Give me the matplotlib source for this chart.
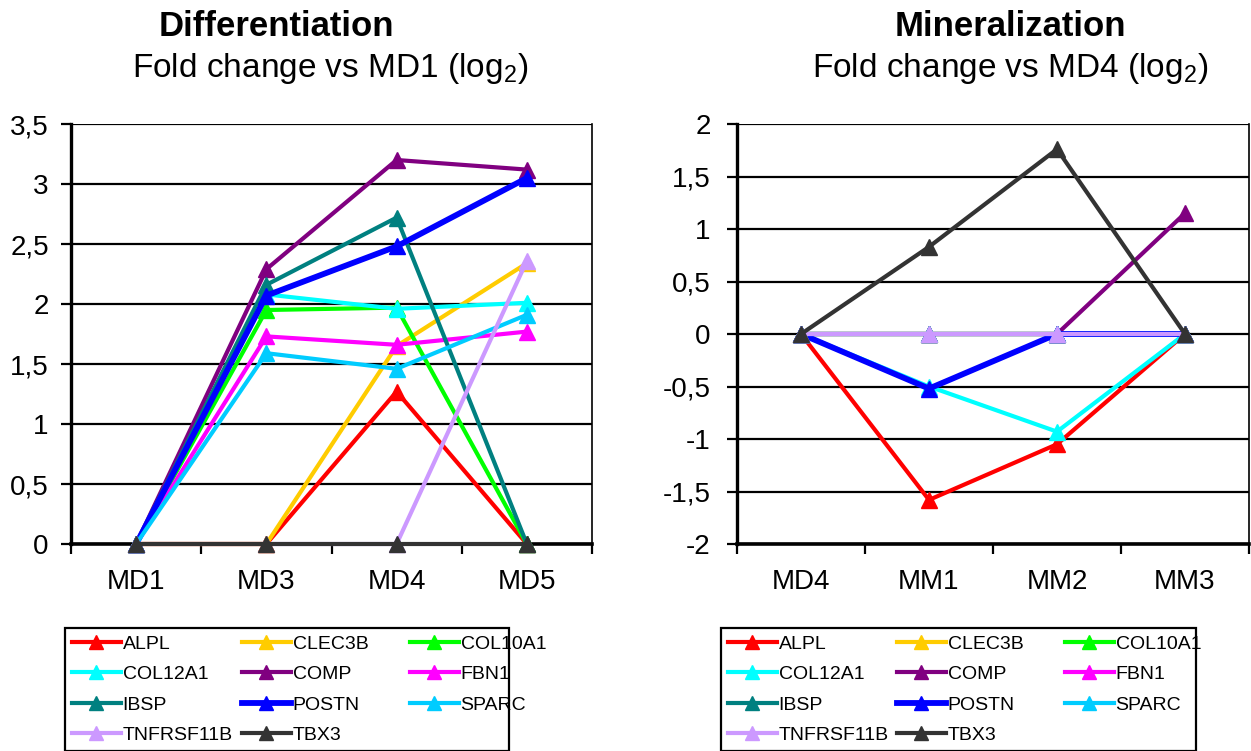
import matplotlib
matplotlib.use("Agg")
import matplotlib.pyplot as plt
from matplotlib.ticker import FixedLocator

plt.rcParams['font.family'] = ['Liberation Sans', 'DejaVu Sans']
plt.rcParams['mathtext.fontset'] = 'custom'
plt.rcParams['mathtext.rm'] = 'Liberation Sans'

genes = ["ALPL", "CLEC3B", "COL10A1", "COL12A1", "COMP", "FBN1",
         "IBSP", "POSTN", "SPARC", "TNFRSF11B", "TBX3"]
colors = ["#FF0000", "#FFCC00", "#00FF00", "#00FFFF", "#800080", "#FF00FF",
          "#008080", "#0000FF", "#00CCFF", "#CC99FF", "#333333"]

diff_categories = ["MD1", "MD3", "MD4", "MD5"]
diff_ALPL = [0, 0, 1.27, 0]
diff_CLEC3B = [0, 0, 1.65, 2.34]
diff_COL10A1 = [0, 1.95, 1.97, 0]
diff_COL12A1 = [0, 2.08, 1.96, 2.01]
diff_COMP = [0, 2.29, 3.20, 3.12]
diff_FBN1 = [0, 1.73, 1.66, 1.77]
diff_IBSP = [0, 2.16, 2.72, 0]
diff_POSTN = [0, 2.07, 2.48, 3.05]
diff_SPARC = [0, 1.59, 1.46, 1.91]
diff_TNFRSF11B = [0, 0, 0, 2.36]
diff_TBX3 = [0, 0, 0, 0]

min_categories = ["MD4", "MM1", "MM2", "MM3"]
min_ALPL = [0, -1.58, -1.05, 0]
min_CLEC3B = [0, 0, 0, 0]
min_COL10A1 = [0, 0, 0, 0]
min_COL12A1 = [0, -0.50, -0.93, 0]
min_COMP = [0, 0, 0, 1.15]
min_FBN1 = [0, 0, 0, 0]
min_IBSP = [0, 0, 0, 0]
min_POSTN = [0, -0.52, 0, 0]
min_SPARC = [0, 0, 0, 0]
min_TNFRSF11B = [0, 0, 0, 0]
min_TBX3 = [0, 0.83, 1.76, 0]

diff_ticks = [0, 0.5, 1, 1.5, 2, 2.5, 3, 3.5]
diff_ticklabels = ["0", "0,5", "1", "1,5", "2", "2,5", "3", "3,5"]
min_ticks = [-2, -1.5, -1, -0.5, 0, 0.5, 1, 1.5, 2]
min_ticklabels = ["-2", "-1,5", "-1", "-0,5", "0", "0,5", "1", "1,5", "2"]

diff_series = [diff_ALPL, diff_CLEC3B, diff_COL10A1, diff_COL12A1, diff_COMP,
               diff_FBN1, diff_IBSP, diff_POSTN, diff_SPARC, diff_TNFRSF11B, diff_TBX3]
min_series = [min_ALPL, min_CLEC3B, min_COL10A1, min_COL12A1, min_COMP,
              min_FBN1, min_IBSP, min_POSTN, min_SPARC, min_TNFRSF11B, min_TBX3]

W, H = 1251, 751
fig = plt.figure(figsize=(W / 100, H / 100), dpi=100)

def px_axes(x0, y0, x1, y1):
    return fig.add_axes([x0 / W, 1 - y1 / H, (x1 - x0) / W, (y1 - y0) / H])

ax1 = px_axes(71, 124, 592, 544)
ax2 = px_axes(737, 124, 1249, 544)

def style(ax, cats, series, ticks, ticklabels, ylim, ypad):
    x = list(range(len(cats)))
    for g, c, s in zip(genes, colors, series):
        lw = 4.2 if g == "POSTN" else 3.0
        ax.plot(x, s, color=c, lw=lw, marker='^', ms=11, mec=c, mfc=c,
                label=g, clip_on=False, zorder=3)
    ax.set_xlim(-0.5, len(cats) - 0.5)
    ax.set_ylim(*ylim)
    ax.set_yticks(ticks)
    ax.set_yticklabels(ticklabels)
    ax.yaxis.grid(True, color='black', lw=1.6)
    ax.set_axisbelow(True)
    ax.set_xticks(x)
    ax.set_xticklabels(cats)
    ax.xaxis.set_minor_locator(FixedLocator([i + 0.5 for i in range(-1, len(cats))]))
    ax.tick_params(axis='x', which='major', length=0, pad=18, labelsize=20)
    ax.tick_params(axis='x', which='minor', length=7, width=1.6, direction='out')
    ax.tick_params(axis='y', length=7, width=1.6, pad=ypad, labelsize=20)
    ax.spines['top'].set_visible(False)
    ax.spines['left'].set_linewidth(2.4)
    ax.spines['bottom'].set_linewidth(2.6)
    ax.spines['right'].set_linewidth(1.2)
    for sp in ax.spines.values():
        sp.set_color('black')

style(ax1, diff_categories, diff_series, diff_ticks, diff_ticklabels, (0, 3.5), 9)
style(ax2, min_categories, min_series, min_ticks, min_ticklabels, (-2, 2), 12)

fig.text(276 / W, 1 - 26 / H, "Differentiation", ha='center', va='center',
         fontsize=25, fontweight='bold')
fig.text(330 / W, 1 - 69 / H, r"Fold change vs MD1 (log$_\mathregular{2}$)",
         ha='center', va='center', fontsize=24)
fig.text(1010 / W, 1 - 26 / H, "Mineralization", ha='center', va='center',
         fontsize=25, fontweight='bold')
fig.text(1010 / W, 1 - 69 / H, r"Fold change vs MD4 (log$_\mathregular{2}$)",
         ha='center', va='center', fontsize=24)

# row-wise legend order (3 columns, 4 rows) -> column-major index order
ncol = 3
nrow = 4
order = [r * ncol + c for c in range(ncol) for r in range(nrow) if r * ncol + c < len(genes)]

for ax, x0, colw in ((ax1, 65, [170, 168, 92]), (ax2, 721, [169, 168, 124])):
    h, l = ax.get_legend_handles_labels()
    h = [h[i] for i in order]
    l = [l[i] for i in order]
    leg = fig.legend(h, l, ncol=ncol, loc='upper left',
                     bbox_to_anchor=(x0 / W, 1 - 628 / H),
                     fontsize=14, frameon=True, fancybox=False,
                     edgecolor='black', framealpha=1, handlelength=2.5,
                     handletextpad=0.1, labelspacing=0.66, borderaxespad=0,
                     borderpad=0.36, columnspacing=0.0, markerscale=0.95)
    leg.get_frame().set_linewidth(1.6)
    try:
        for col, w in zip(leg._legend_handle_box.get_children(), colw):
            col.align = 'left'
            col.width = w
    except Exception:
        pass

fig.savefig("out.png", dpi=100)
